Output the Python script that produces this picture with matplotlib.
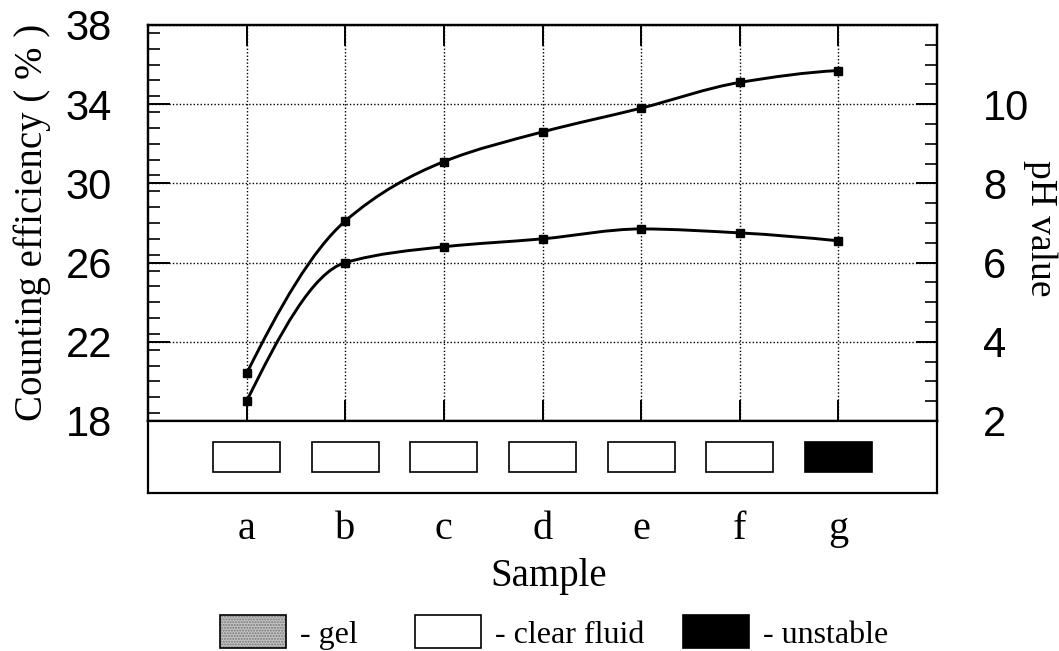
import numpy as np
import matplotlib.pyplot as plt
from matplotlib.path import Path
from matplotlib.patches import PathPatch, Rectangle
from matplotlib.ticker import MultipleLocator, FixedLocator

plt.rcParams["font.family"] = ["Liberation Serif", "DejaVu Serif"]

# Samples and measured values
samples = ["a", "b", "c", "d", "e", "f", "g"]
efficiency = [20.4, 28.1, 31.1, 32.6, 33.8, 35.1, 35.7]  # counting efficiency, %
ph = [2.5, 6.0, 6.4, 6.6, 6.85, 6.75, 6.55]  # pH value
states = ["clear fluid"] * 6 + ["unstable"]

state_names = ["gel", "clear fluid", "unstable"]
state_colors = {"gel": "#c4c4c4", "clear fluid": "white", "unstable": "black"}

W, H = 1059, 651


def fig_rect(left, top, right, bottom):
    # pixel box -> figure fraction [x, y, w, h]
    return [left / W, 1 - bottom / H, (right - left) / W, (bottom - top) / H]


def smooth_path(xs, ys):
    # monotone cubic (PCHIP-style tangents) drawn as Bezier segments
    xs = np.asarray(xs, float)
    ys = np.asarray(ys, float)
    h = np.diff(xs)
    d = np.diff(ys) / h
    m = np.zeros_like(ys)
    for i in range(1, len(ys) - 1):
        if d[i - 1] * d[i] > 0:
            m[i] = 2 / (1 / d[i - 1] + 1 / d[i])
    m[0] = ((2 * h[0] + h[1]) * d[0] - h[0] * d[1]) / (h[0] + h[1])
    m[-1] = ((2 * h[-1] + h[-2]) * d[-1] - h[-1] * d[-2]) / (h[-1] + h[-2])
    verts = [(xs[0], ys[0])]
    codes = [Path.MOVETO]
    for i in range(len(xs) - 1):
        k = h[i] / 3
        verts += [(xs[i] + k, ys[i] + m[i] * k),
                  (xs[i + 1] - k, ys[i + 1] - m[i + 1] * k),
                  (xs[i + 1], ys[i + 1])]
        codes += [Path.CURVE4] * 3
    return Path(verts, codes)


fig = plt.figure(figsize=(W / 100, H / 100), dpi=100)
x = np.arange(len(samples))

# Main plot
ax = fig.add_axes(fig_rect(148, 25, 937, 421))
ax2 = ax.twinx()

ax.set_xlim(-1, len(samples))
ax.set_ylim(18, 38)
ax2.set_ylim(2, 12)

ax.add_patch(PathPatch(smooth_path(x, efficiency), fill=False, lw=2.1, color="black", zorder=3))
ax.plot(x, efficiency, ls="none", marker="s", ms=5.5, color="black", zorder=4)
ax2.add_patch(PathPatch(smooth_path(x, ph), fill=False, lw=2.1, color="black", zorder=3))
ax2.plot(x, ph, ls="none", marker="s", ms=5.5, color="black", zorder=4)

ax.set_xticks(x)
ax.yaxis.set_major_locator(FixedLocator(np.arange(18, 39, 4)))
ax.yaxis.set_minor_locator(MultipleLocator(0.8))
ax2.yaxis.set_major_locator(FixedLocator([2, 4, 6, 8, 10]))
ax2.yaxis.set_minor_locator(MultipleLocator(0.5))

ax.grid(True, which="major", color="black", lw=1.0, ls=(0, (1, 1.5)))

ax.tick_params(axis="x", direction="in", length=15, width=1.4, top=True,
               labelbottom=False)
ax.tick_params(axis="y", which="major", direction="in", length=16, width=1.4,
               pad=26, labelsize=30, labelfontfamily="Liberation Sans")
ax.tick_params(axis="y", which="minor", direction="in", length=8.5, width=1.2)
ax2.tick_params(axis="y", which="major", direction="in", length=15, width=1.4,
                pad=33, labelsize=30, labelfontfamily="Liberation Sans")
ax2.tick_params(axis="y", which="minor", direction="in", length=8.5, width=1.2)

for a in (ax, ax2):
    for s in a.spines.values():
        s.set_linewidth(1.6)

# Appearance of each sample
ax_state = fig.add_axes(fig_rect(148, 421, 937, 493))
ax_state.set_xlim(-1, len(samples))
ax_state.set_ylim(0, 1)
for xi, st in zip(x, states):
    ax_state.add_patch(Rectangle((xi - 0.34, 0.285), 0.68, 0.43,
                                 facecolor=state_colors[st], edgecolor="black", lw=1.2))
ax_state.set_yticks([])
ax_state.set_xticks(x, samples)
ax_state.tick_params(axis="x", length=0, pad=13, labelsize=29)
for s in ax_state.spines.values():
    s.set_linewidth(1.6)

fig.text(549 / W, 1 - 586 / H, "Sample", ha="center", va="baseline", fontsize=28)
fig.text(32 / W, 1 - 222 / H, "Counting efficiency ( % )", rotation=90,
         ha="center", va="center", fontsize=28)
fig.text(1040 / W, 1 - 228 / H, "pH value", rotation=270,
         ha="center", va="center", fontsize=27)

# Legend strip
ax_leg = fig.add_axes([0, 0, 1, 1], zorder=-1)
ax_leg.set_xlim(0, W)
ax_leg.set_ylim(H, 0)
ax_leg.axis("off")
swatch_left = [220, 415, 683]
for left, name in zip(swatch_left, state_names):
    if name == "gel":
        ax_leg.add_patch(Rectangle((left, 615), 66, 33, facecolor=state_colors[name],
                                   edgecolor="#777777", hatch="......", lw=0))
        ax_leg.add_patch(Rectangle((left, 615), 66, 33, fill=False,
                                   edgecolor="black", lw=1.2))
    else:
        ax_leg.add_patch(Rectangle((left, 615), 66, 33, facecolor=state_colors[name],
                                   edgecolor="black", lw=1.2))
    ax_leg.text(left + 80, 643, "- " + name, ha="left", va="baseline", fontsize=23)

fig.savefig("out.png", dpi=100)
